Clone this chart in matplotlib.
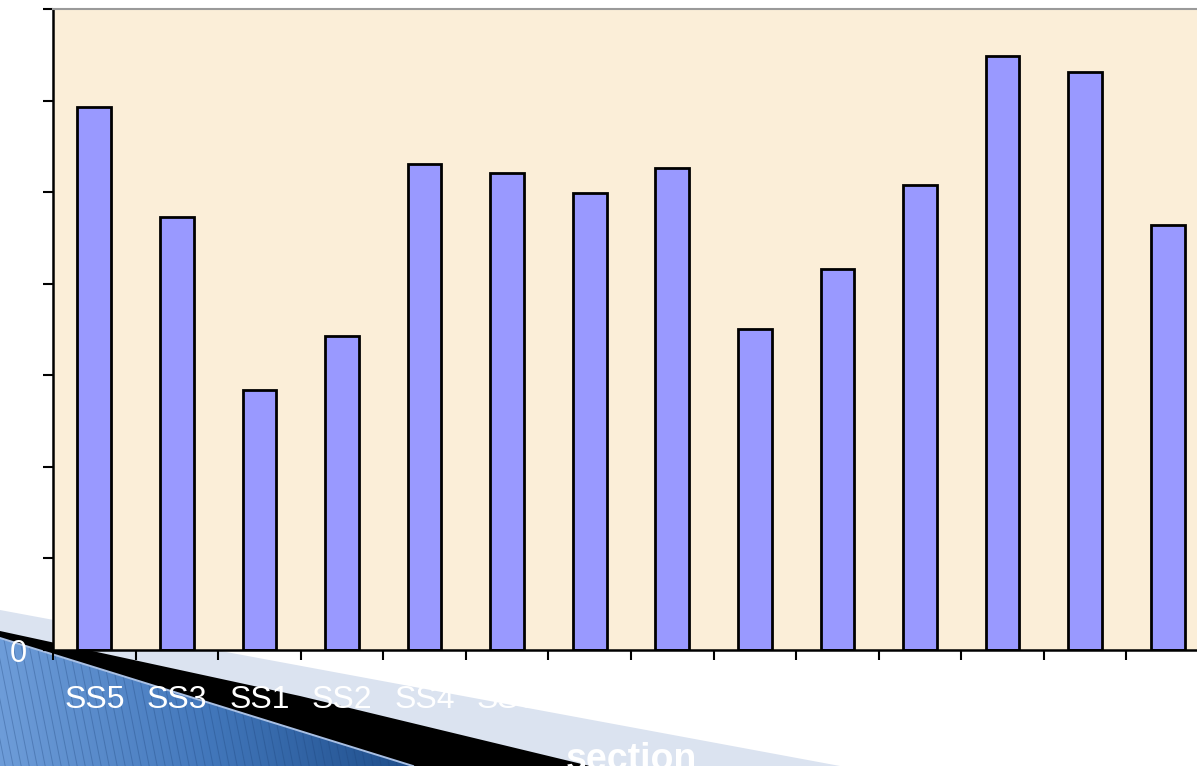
import numpy as np
import matplotlib
matplotlib.use("Agg")
import matplotlib.pyplot as plt
from matplotlib.patches import Polygon
from matplotlib.colors import LinearSegmentedColormap

# ---- data ----
categories = ["SS5", "SS3", "SS1", "SS2", "SS4", "SS6", "SS7",
              "SS8", "SS9", "SS10", "SS11", "SS12", "SS13", "SS14"]
values = [59.3, 47.3, 28.4, 34.3, 53.1, 52.1, 49.9,
          52.6, 35.1, 41.6, 50.8, 64.9, 63.1, 46.4]
y_ticks = [0, 10, 20, 30, 40, 50, 60, 70]
x_label = "section"

W, H = 1197, 766
plt.rcParams["font.family"] = ["Liberation Sans", "DejaVu Sans"]

fig = plt.figure(figsize=(W / 100, H / 100), dpi=100, facecolor="white")

# ---- slide decoration in pixel coordinates (behind the chart) ----
deco = fig.add_axes([0, 0, 1, 1], zorder=0)
deco.set_xlim(0, W)
deco.set_ylim(H, 0)
deco.axis("off")

deco.add_patch(Polygon([(0, 610), (840, 766), (0, 766)], closed=True,
                       facecolor="#DBE3F0", edgecolor="none"))
deco.add_patch(Polygon([(0, 631), (300, 696), (590, 766), (0, 766)], closed=True,
                       facecolor="black", edgecolor="none"))

# blue wedge with a left-to-right gradient, built from thin vertical slices
cmap = LinearSegmentedColormap.from_list("slideblue", ["#6d9cd8", "#4277bb", "#1e4d8a"])
x_end = 413.0
def blue_top(xv):
    return 638 + (xv / x_end) * (766 - 638)

step = 2.0
for xs in np.arange(0, x_end, step):
    xe = min(xs + step + 0.6, x_end)
    col = cmap(xs / x_end)
    deco.add_patch(Polygon([(xs, blue_top(xs)), (xe, blue_top(xe)), (xe, 767), (xs, 767)],
                           closed=True, facecolor=col, edgecolor="none"))

blue_clip = Polygon([(0, 638), (x_end, 766), (0, 766)], closed=True,
                    facecolor="none", edgecolor="none")
deco.add_patch(blue_clip)
# fine diagonal stripes on the blue wedge
for x0 in np.arange(-200, 440, 8):
    ln, = deco.plot([x0, x0 + 30], [620, 770], color="#1a3f75", lw=0.7, alpha=0.3)
    ln.set_clip_path(blue_clip)
deco.plot([0, x_end], [638, 766], color="#a9c0e4", lw=1.4)

# ---- chart ----
left_px, right_px, top_px, bottom_px = 53, 1209, 9, 650
ax = fig.add_axes([left_px / W, 1 - bottom_px / H,
                   (right_px - left_px) / W, (bottom_px - top_px) / H], zorder=1)
ax.set_facecolor("#FBEED8")

x = np.arange(len(categories))
ax.bar(x, values, width=0.41, color="#9999FF", edgecolor="black", linewidth=2.0, zorder=2)

ax.set_xlim(-0.5, len(categories) - 0.5)
ax.set_ylim(y_ticks[0], y_ticks[-1])

ax.set_yticks(y_ticks)
ax.set_yticklabels([str(v) for v in y_ticks])
ax.tick_params(axis="y", direction="out", length=7.5, width=1.5, color="black",
               labelsize=22, labelcolor="white", pad=11)

ax.set_xticks(x)
ax.set_xticklabels(categories)
ax.set_xticks(np.arange(-0.5, len(categories), 1), minor=True)
ax.tick_params(axis="x", which="major", length=0, labelsize=23,
               labelcolor="white", pad=25)
ax.tick_params(axis="x", which="minor", direction="out", length=7, width=1.5,
               color="black")

for side in ("left", "bottom"):
    ax.spines[side].set_color("black")
    ax.spines[side].set_linewidth(1.8)
ax.spines["top"].set_color("#9a9a9a")
ax.spines["top"].set_linewidth(1.5)
ax.spines["right"].set_color("#9a9a9a")

ax.set_xlabel(x_label, fontsize=27, fontweight="bold", color="white", va="baseline")
ax.xaxis.set_label_coords(0.5, (bottom_px - 770) / (bottom_px - top_px))

fig.savefig("out.png", dpi=100, facecolor="white")
